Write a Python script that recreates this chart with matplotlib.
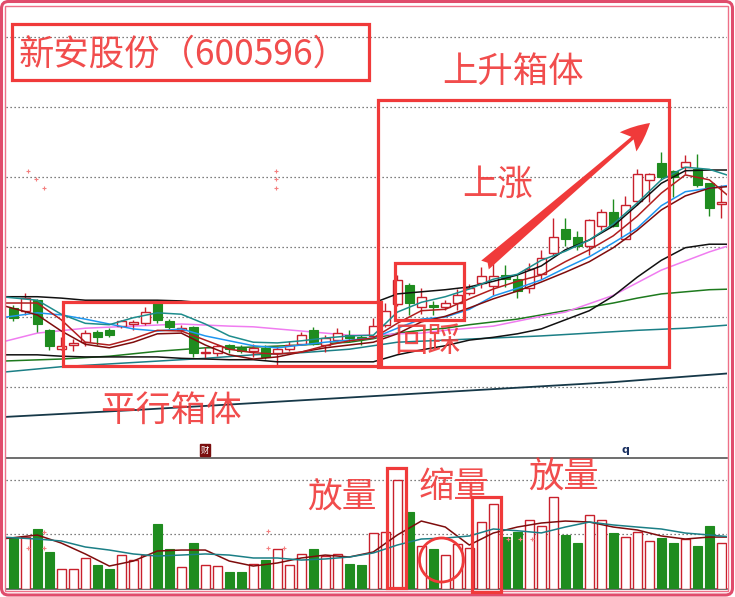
import matplotlib
matplotlib.use("Agg")
import matplotlib.pyplot as plt
from matplotlib.patches import Rectangle, Circle, FancyBboxPatch, FancyArrowPatch

plt.rcParams['font.family'] = ['Noto Sans CJK SC', 'DejaVu Sans']

# ---- daily bars (price in yuan, volume in 10k lots) ----
opens = [10.13, 10.08, 10.25, 9.81, 9.55, 9.60, 9.64, 9.78, 9.81, 9.87,
         9.90, 9.91, 10.20, 9.95, 9.81, 9.86, 9.49, 9.48, 9.60, 9.56,
         9.51, 9.56, 9.49, 9.55, 9.61, 9.82, 9.60, 9.67, 9.75, 9.72,
         9.73, 9.89, 10.19, 10.46, 10.15, 10.17, 10.14, 10.20, 10.35, 10.48,
         10.45, 10.60, 10.54, 10.42, 10.62, 10.91, 11.26, 11.15, 11.01, 11.30,
         11.50, 11.12, 11.66, 11.96, 12.20, 12.09, 12.15, 12.12, 11.92, 11.61]
highs = [10.17, 10.35, 10.26, 9.83, 9.71, 9.69, 9.82, 9.81, 9.85, 9.96,
         9.96, 10.15, 10.20, 9.97, 9.89, 9.87, 9.57, 9.62, 9.61, 9.60,
         9.61, 9.60, 9.58, 9.66, 9.79, 9.86, 9.74, 9.84, 9.81, 9.74,
         9.98, 10.20, 10.60, 10.48, 10.42, 10.23, 10.24, 10.40, 10.47, 10.72,
         10.77, 10.74, 10.60, 10.77, 10.96, 11.42, 11.41, 11.23, 11.40, 11.54,
         11.68, 11.73, 12.12, 12.06, 12.36, 12.10, 12.31, 12.33, 11.92, 11.89]
lows = [9.95, 10.03, 9.79, 9.53, 9.53, 9.52, 9.59, 9.60, 9.72, 9.84,
        9.81, 9.89, 9.91, 9.83, 9.79, 9.43, 9.42, 9.44, 9.48, 9.48,
        9.43, 9.40, 9.29, 9.51, 9.60, 9.60, 9.50, 9.65, 9.65, 9.60,
        9.72, 9.86, 10.16, 10.03, 10.05, 10.03, 10.10, 10.10, 10.31, 10.41,
        10.31, 10.43, 10.27, 10.34, 10.55, 10.89, 11.01, 10.96, 10.89, 11.25,
        11.28, 11.11, 11.60, 11.65, 11.96, 11.72, 12.05, 11.86, 11.44, 11.42]
closes = [9.98, 10.27, 9.90, 9.58, 9.58, 9.63, 9.77, 9.72, 9.75, 9.94,
          9.93, 10.07, 9.96, 9.86, 9.85, 9.48, 9.50, 9.59, 9.55, 9.52,
          9.56, 9.43, 9.54, 9.60, 9.75, 9.62, 9.70, 9.77, 9.70, 9.69,
          9.87, 10.08, 10.53, 10.20, 10.29, 10.14, 10.20, 10.31, 10.42, 10.59,
          10.59, 10.55, 10.37, 10.68, 10.85, 11.15, 11.11, 11.01, 11.39, 11.50,
          11.30, 11.60, 12.04, 12.05, 12.00, 12.00, 12.21, 11.89, 11.56, 11.65]
volumes = [4.68, 4.77, 5.50, 3.39, 1.83, 1.83, 2.84, 2.20, 1.83, 3.12,
           2.66, 3.12, 5.96, 3.67, 1.93, 4.22, 2.20, 2.02, 1.56, 1.56,
           2.29, 2.57, 3.58, 2.20, 3.21, 3.58, 2.94, 3.21, 2.29, 2.20,
           5.05, 5.23, 10.00, 7.06, 3.94, 3.58, 3.12, 4.04, 3.76, 6.06,
           7.71, 4.77, 5.14, 6.33, 5.69, 8.44, 4.95, 4.22, 6.79, 6.33,
           5.05, 4.77, 5.14, 4.40, 4.68, 4.22, 4.50, 3.94, 5.69, 4.13]

# ---- indicator lines, sampled at bar positions ----
line_x = [-1, 2, 4, 6, 8, 10, 12, 14, 16, 18, 20, 22, 24, 26, 28, 30,
          32, 34, 36, 38, 40, 42, 44, 46, 48, 50, 52, 54, 56, 58, 60]
ma_teal = [10.29, 10.24, 10.04, 9.91, 9.89, 9.99, 10.06, 10.04, 9.90, 9.73, 9.64,
           9.63, 9.66, 9.70, 9.73, 9.74, 10.07, 10.21, 10.29, 10.40, 10.54, 10.61,
           10.81, 10.94, 11.10, 11.33, 11.63, 11.96, 12.14, 12.11, 12.00]
band_upper = [10.29, 10.29, 10.27, 10.24, 10.24, 10.24, 10.24, 10.23, 10.20, 10.20, 10.20,
              10.20, 10.20, 10.20, 10.20, 10.20, 10.33, 10.36, 10.39, 10.43, 10.51, 10.60,
              10.73, 10.96, 11.10, 11.30, 11.60, 11.91, 12.09, 12.10, 12.10]
band_lower = [9.46, 9.46, 9.44, 9.43, 9.43, 9.43, 9.43, 9.41, 9.40, 9.39, 9.39,
              9.36, 9.36, 9.36, 9.36, 9.36, 9.46, 9.53, 9.59, 9.67, 9.71, 9.76,
              9.83, 9.96, 10.09, 10.30, 10.57, 10.81, 10.99, 11.04, 11.04]
ma_red = [10.20, 10.20, 9.96, 9.64, 9.60, 9.69, 9.81, 9.80, 9.67, 9.54, 9.49,
          9.47, 9.50, 9.59, 9.66, 9.70, 9.91, 10.09, 10.11, 10.26, 10.40, 10.51,
          10.60, 10.79, 10.96, 11.16, 11.44, 11.77, 12.03, 11.96, 11.67]
ma_darkred = [10.17, 10.03, 9.80, 9.61, 9.56, 9.64, 9.76, 9.77, 9.60, 9.46, 9.40,
              9.43, 9.50, 9.56, 9.60, 9.64, 9.76, 9.93, 10.01, 10.13, 10.26, 10.37,
              10.50, 10.64, 10.79, 10.99, 11.24, 11.53, 11.73, 11.84, 11.87]
ma_blue = [9.99, 10.06, 10.03, 9.97, 9.90, 9.83, 9.80, 9.83, 9.73, 9.66, 9.59,
           9.56, 9.60, 9.64, 9.67, 9.70, 9.84, 9.97, 10.00, 10.11, 10.30, 10.41,
           10.53, 10.70, 10.86, 11.06, 11.27, 11.59, 11.79, 11.84, 11.89]

violet_x = [-1, 2, 6, 10, 14, 18, 20, 24, 28, 30, 32, 34, 36, 38, 40, 42, 44,
            46, 48, 50, 52, 54, 56, 58, 60]
ma_violet = [9.64, 9.77, 9.84, 9.87, 9.90, 9.87, 9.86, 9.80, 9.74, 9.74, 9.76, 9.77,
             9.81, 9.84, 9.87, 9.94, 10.01, 10.07, 10.19, 10.31, 10.49, 10.67,
             10.80, 10.93, 11.04]
green_x = [-1, 4, 8, 12, 16, 20, 24, 28, 30, 32, 34, 36, 38, 40, 42, 44, 46,
           48, 50, 52, 54, 56, 58, 60]
ma_green = [9.37, 9.40, 9.44, 9.51, 9.56, 9.57, 9.60, 9.64, 9.69, 9.77, 9.81, 9.84,
            9.89, 9.93, 9.97, 10.03, 10.09, 10.14, 10.20, 10.27, 10.33, 10.36,
            10.39, 10.40]
slate_x = [-1, 4, 8, 12, 16, 20, 24, 28, 30, 32, 36, 40, 44, 48, 52, 56, 60]
ma_slate = [9.21, 9.29, 9.33, 9.37, 9.41, 9.46, 9.49, 9.54, 9.59, 9.64, 9.67,
            9.70, 9.73, 9.77, 9.81, 9.84, 9.89]
long_x = [-1, 10, 20, 30, 40, 50, 60]
ma_long = [8.57, 8.67, 8.77, 8.87, 8.97, 9.07, 9.20]

vol_ma5 = [4.54, 4.91, 4.17, 3.17, 2.06, 2.52, 3.44, 3.53, 3.53, 2.52, 2.06,
           2.34, 2.80, 3.07, 2.89, 3.35, 4.91, 6.19, 5.64, 3.99, 5.09, 5.64,
           6.01, 6.19, 6.10, 5.64, 5.37, 4.82, 4.54, 4.72, 4.72]
vol_ma10 = [4.72, 4.54, 4.36, 3.81, 3.53, 3.17, 2.98, 3.07, 3.17, 3.07, 2.80,
            2.80, 2.61, 2.71, 2.89, 3.26, 3.99, 4.54, 4.63, 4.82, 5.46, 5.30,
            5.10, 5.64, 6.10, 5.83, 5.64, 5.46, 5.09, 4.91, 4.72]

price_grid = [9, 10, 11, 12, 13, 14]
volume_grid = [5, 10]

UP = '#C8202C'
DOWN = '#1F8C1F'
NOTE = '#F03A3A'
FRAME = '#E04C6C'
GRID = '#555555'

W, H = 735, 597
fig = plt.figure(figsize=(W / 100, H / 100), dpi=100)
fig.patch.set_facecolor('white')

x_lo, x_hi = -0.608, 59.475
ax_p = fig.add_axes([6 / W, (H - 458) / H, 721 / W, 452 / H])
ax_v = fig.add_axes([6 / W, (H - 588.5) / H, 721 / W, 130 / H])

for ax in (ax_p, ax_v):
    ax.set_xlim(x_lo, x_hi)
    ax.set_xticks([])
    ax.set_yticks([])
    for side in ('top', 'left', 'right'):
        ax.spines[side].set_visible(False)
    ax.spines['bottom'].set_color(GRID)
    ax.spines['bottom'].set_linewidth(1.2)
    ax.set_facecolor('none')

ax_p.set_ylim(7.986, 14.443)
ax_v.set_ylim(0, 11.93)

for g in price_grid:
    ax_p.axhline(g, color=GRID, lw=0.9, ls=(0, (1, 2.2)), zorder=0)
for g in volume_grid:
    ax_v.axhline(g, color=GRID, lw=0.9, ls=(0, (1, 2.2)), zorder=0)

# ---- candlesticks ----
bw = 0.72
for i, (o, h, l, c) in enumerate(zip(opens, highs, lows, closes)):
    top, bot = max(o, c), min(o, c)
    if c >= o:
        ax_p.vlines(i, top, h, color=UP, lw=1.0, zorder=3)
        ax_p.vlines(i, l, bot, color=UP, lw=1.0, zorder=3)
        ax_p.add_patch(Rectangle((i - bw / 2, bot), bw, max(top - bot, 0.012),
                                 facecolor='white', edgecolor=UP, lw=1.0, zorder=3))
    else:
        ax_p.vlines(i, l, h, color=DOWN, lw=1.0, zorder=3)
        ax_p.add_patch(Rectangle((i - bw / 2, bot), bw, max(top - bot, 0.012),
                                 facecolor=DOWN, edgecolor=DOWN, lw=0.8, zorder=3))

# ---- moving-average / channel lines ----
lw_ma = 1.1
ax_p.plot(long_x, ma_long, color='#163848', lw=1.3, zorder=2)
ax_p.plot(slate_x, ma_slate, color='#1B7F86', lw=lw_ma, zorder=2)
ax_p.plot(green_x, ma_green, color='#1E7A1E', lw=lw_ma, zorder=2)
ax_p.plot(violet_x, ma_violet, color='#F07CF0', lw=lw_ma, zorder=2)
ax_p.plot(line_x, band_lower, color='#111111', lw=lw_ma, zorder=4)
ax_p.plot(line_x, band_upper, color='#111111', lw=lw_ma, zorder=4)
ax_p.plot(line_x, ma_blue, color='#1E96F0', lw=lw_ma, zorder=4)
ax_p.plot(line_x, ma_darkred, color='#7E0C0C', lw=lw_ma, zorder=4)
ax_p.plot(line_x, ma_red, color='#B01E1E', lw=lw_ma, zorder=4)
ax_p.plot(line_x, ma_teal, color='#1D8C8C', lw=lw_ma, zorder=4)

# ---- volume bars ----
for i, (o, c, v) in enumerate(zip(opens, closes, volumes)):
    if c >= o:
        ax_v.bar(i, v, width=bw, facecolor='white', edgecolor=UP, lw=1.0, zorder=3)
    else:
        ax_v.bar(i, v, width=bw, facecolor=DOWN, edgecolor=DOWN, lw=0.8, zorder=3)
ax_v.plot(line_x, vol_ma5, color='#7E0C0C', lw=1.1, zorder=4)
ax_v.plot(line_x, vol_ma10, color='#1B7F86', lw=1.1, zorder=4)

# ---- annotation layer (pixel coordinates) ----
ax_o = fig.add_axes([0, 0, 1, 1], zorder=10)
ax_o.set_xlim(0, W)
ax_o.set_ylim(H, 0)
ax_o.axis('off')
ax_o.patch.set_alpha(0)

ax_o.add_patch(FancyBboxPatch((1.5, 1.5), 731, 593.5,
                              boxstyle='round,pad=0,rounding_size=7',
                              fc='none', ec=FRAME, lw=2.2))
ax_o.add_patch(Rectangle((5.5, 5.5), 722.5, 585.5, fc='none', ec='#EE7088', lw=1.0))

box_lw = 2.3
def box(x0, y0, x1, y1):
    ax_o.add_patch(Rectangle((x0, y0), x1 - x0, y1 - y0, fc='none', ec=NOTE, lw=box_lw))

box(12.5, 24, 369, 80)
box(63.5, 302, 381.5, 365.5)
box(378, 100, 669.5, 366.5)
box(395, 263, 464, 320)
box(387, 468, 406.5, 588)
box(472.5, 497, 501.5, 592)
ax_o.add_patch(Circle((441.5, 560), 22, fc='none', ec=NOTE, lw=2.0))

# tapered trend arrow
ax_o.add_patch(FancyArrowPatch(
    (485, 265), (650, 123),
    arrowstyle='fancy,head_length=0.8,head_width=0.7,tail_width=0.32',
    mutation_scale=26, color=NOTE, lw=0, shrinkA=0, shrinkB=0))

def note(x, y, s, size):
    ax_o.text(x, y, s, color=NOTE, fontsize=size, ha='center', va='center',
              alpha=0.9, fontweight='light')

note(184, 55, '新安股份（600596）', 25.5)
note(513, 72, '上升箱体', 25.5)
note(498, 185, '上涨', 25.5)
note(171, 411, '平行箱体', 25.5)
note(428, 341, '回踩', 24)
note(342, 497, '放量', 25)
note(454, 487, '缩量', 25.5)
note(564, 478, '放量', 25.5)

ax_o.text(205, 450, '财', color='white', fontsize=6, ha='center', va='center',
          bbox=dict(boxstyle='square,pad=0.15', fc='#7A0E0E', ec='#7A0E0E'))
ax_o.text(625, 450, 'q', color='#1A3060', fontsize=8, fontweight='bold',
          ha='center', va='center', family='DejaVu Sans')

marks_x = [28, 36, 44, 276, 276, 276, 44, 28, 44, 268, 268, 284, 508, 520, 532]
marks_y = [171, 179, 188, 171, 179, 188, 532, 548, 548, 531, 548, 548, 539, 539, 539]
ax_o.plot(marks_x, marks_y, '+', color='#F48080', ms=3, mew=0.8, ls='none')

fig.savefig('out.png', dpi=100, facecolor='white')
